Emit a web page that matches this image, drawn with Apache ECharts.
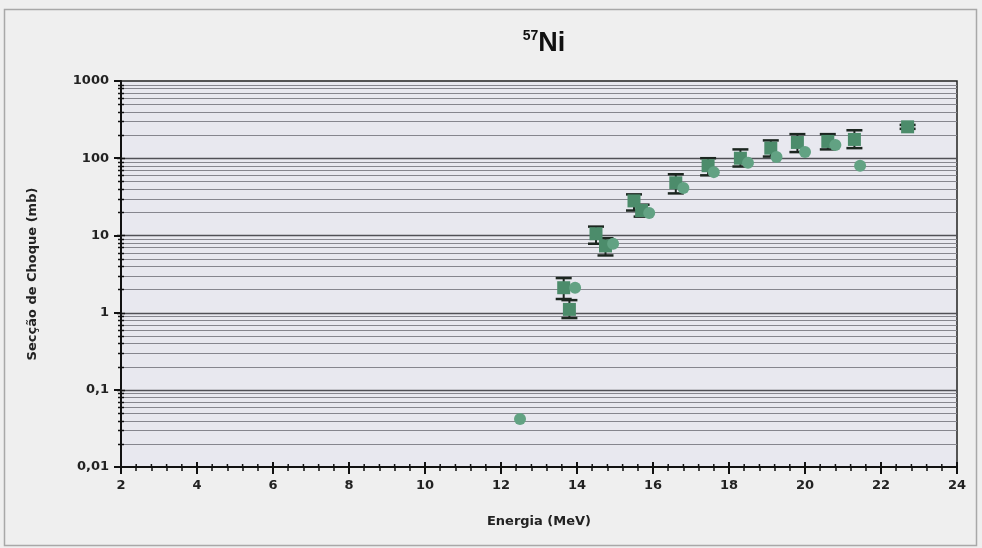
<!DOCTYPE html>
<html>
<head>
<meta charset="utf-8">
<title>57Ni</title>
<script src="https://cdn.jsdelivr.net/npm/echarts@6/dist/echarts.min.js"></script>
<style>
  html, body { margin: 0; padding: 0; background: #efefef; }
  #chart { width: 982px; height: 548px; }
</style>
</head>
<body>
<div id="chart"></div>
<script>
// Cross-section measurements for 57Ni (energy in MeV, cross-section in mb)
const setAEnergy = [13.65, 13.8, 14.5, 14.75, 15.5, 15.7, 16.6, 17.45, 18.3, 19.1, 19.8, 20.6, 21.3, 22.7];
const setAValue  = [2.1, 1.1, 10.5, 7.3, 28, 21, 48, 80, 100, 135, 160, 165, 175, 255];
const setALow    = [1.5, 0.85, 7.8, 5.5, 21, 17.5, 35, 60, 78, 105, 120, 130, 135, 240];
const setAHigh   = [2.8, 1.45, 13, 9.2, 34, 25, 62, 100, 130, 170, 205, 205, 230, 270];

const setBEnergy = [12.5, 13.95, 14.95, 15.9, 16.8, 17.6, 18.5, 19.25, 20.0, 20.8, 21.45];
const setBValue  = [0.042, 2.1, 7.8, 19.5, 41, 66, 87, 104, 120, 148, 80];

// Axis settings
const xTicks = { min: 2, max: 24, interval: 2 };
const yDecades = [0.01, 0.1, 1, 10, 100, 1000];
const minorFactors = [2, 3, 4, 5, 6, 7, 8, 9];

const font = 'DejaVu Sans';

const squareData = setAEnergy.map((e, i) => [e, setAValue[i]]);
const errData = setAEnergy.map((e, i) => [e, setALow[i], setAHigh[i]]);
const circleData = setBEnergy.map((e, i) => [e, setBValue[i]]);

// minor log gridlines (2..9 within every decade)
const minorVals = [];
yDecades.slice(0, -1).forEach(d => minorFactors.forEach(f => minorVals.push([d * f])));
const majorVals = yDecades.slice(1, -1).map(v => [v]);

const chart = echarts.init(document.getElementById('chart'));

function hLine(color, width, tick) {
  return function (params, api) {
    const v = api.value(0);
    const p0 = api.coord([xTicks.min, v]);
    const p1 = api.coord([xTicks.max, v]);
    const y = Math.round(p0[1]) + 0.5;
    return {
      type: 'group',
      children: [
        { type: 'line', shape: { x1: p0[0], y1: y, x2: p1[0], y2: y },
          style: { stroke: color, lineWidth: width } },
        { type: 'line', shape: { x1: p0[0] - tick, y1: y, x2: p0[0] + tick, y2: y },
          style: { stroke: '#111', lineWidth: 1.5 } }
      ]
    };
  };
}

// short upward tick marks on the x axis, so each tick crosses the axis line
function xInnerTicks(params, api) {
  const x = api.value(0);
  const major = api.value(1);
  const p = api.coord([x, 0.01]);
  const len = major ? 5 : 3;
  return { type: 'line', shape: { x1: p[0], y1: p[1], x2: p[0], y2: p[1] - len },
           style: { stroke: '#111', lineWidth: major ? 2 : 1.5 } };
}
const xTickMarks = [];
for (let k = 0; k <= (xTicks.max - xTicks.min) / 0.4 + 1e-9; k++) {
  const x = +(xTicks.min + k * 0.4).toFixed(2);
  xTickMarks.push([x, Math.abs(x / 2 - Math.round(x / 2)) < 1e-6 ? 1 : 0]);
}

chart.setOption({
  backgroundColor: '#efefef',
  animation: false,
  title: {
    text: '{sup|57}{main|Ni}',
    left: 539,
    top: 24,
    textAlign: 'center',
    textStyle: {
      rich: {
        sup: { fontFamily: 'Liberation Sans', fontWeight: 'bold', fontSize: 14, color: '#111', verticalAlign: 'top', lineHeight: 30, padding: [0, 0, 12, 0] },
        main: { fontFamily: 'Liberation Sans', fontWeight: 'bold', fontSize: 27, color: '#111', lineHeight: 30 }
      }
    }
  },
  graphic: [
    { type: 'rect', shape: { x: 4.5, y: 9.5, width: 972, height: 536 },
      style: { fill: 'none', stroke: '#a8a8a8', lineWidth: 1.5 }, z: -1 }
  ],
  grid: {
    left: 121, right: 25, top: 81, bottom: 81,
    show: true, backgroundColor: '#e8e8ef', borderColor: '#222', borderWidth: 1.5
  },
  xAxis: {
    type: 'value',
    min: xTicks.min, max: xTicks.max, interval: xTicks.interval,
    name: 'Energia (MeV)', nameLocation: 'middle', nameGap: 48,
    nameTextStyle: { fontFamily: font, fontWeight: 'bold', fontSize: 13, color: '#222' },
    axisLine: { onZero: false, lineStyle: { color: '#111', width: 2 } },
    axisTick: { show: true, length: 7, lineStyle: { color: '#111', width: 2 } },
    minorTick: { show: true, splitNumber: 5, length: 4, lineStyle: { color: '#111', width: 1.5 } },
    axisLabel: { fontFamily: font, fontWeight: 'bold', fontSize: 13, color: '#222', margin: 12 },
    splitLine: { show: false }
  },
  yAxis: {
    type: 'log', logBase: 10, min: 0.01, max: 1000,
    name: 'Secção de Choque (mb)', nameLocation: 'middle', nameGap: 82,
    nameTextStyle: { fontFamily: font, fontWeight: 'bold', fontSize: 13, color: '#222' },
    axisLine: { lineStyle: { color: '#111', width: 2 } },
    axisTick: { show: true, length: 7, lineStyle: { color: '#111', width: 2 } },
    axisLabel: {
      fontFamily: font, fontWeight: 'bold', fontSize: 13, color: '#222', margin: 12,
      formatter: v => String(v).replace('.', ',')
    },
    splitLine: { show: false }
  },
  series: [
    {
      type: 'custom', name: 'minorGrid', silent: true, z: 1,
      renderItem: hLine('#86868e', 1, 3),
      data: minorVals, encode: { y: 0 }
    },
    {
      type: 'custom', name: 'majorGrid', silent: true, z: 1,
      renderItem: hLine('#505056', 1.5, 4),
      data: majorVals, encode: { y: 0 }
    },
    {
      type: 'custom', name: 'xTickMarks', silent: true, z: 2,
      renderItem: xInnerTicks,
      data: xTickMarks, encode: { x: 0 }
    },
    {
      type: 'custom', name: 'errorBars', silent: true, z: 3,
      renderItem: function (params, api) {
        const x = api.value(0);
        const lo = api.coord([x, api.value(1)]);
        const hi = api.coord([x, api.value(2)]);
        const w = 8;
        const st = { stroke: '#1c2620', lineWidth: 2.5 };
        return {
          type: 'group',
          children: [
            { type: 'line', shape: { x1: lo[0], y1: lo[1], x2: hi[0], y2: hi[1] }, style: { stroke: '#1c2620', lineWidth: 2 } },
            { type: 'line', shape: { x1: lo[0] - w, y1: lo[1], x2: lo[0] + w, y2: lo[1] }, style: st },
            { type: 'line', shape: { x1: hi[0] - w, y1: hi[1], x2: hi[0] + w, y2: hi[1] }, style: st }
          ]
        };
      },
      data: errData, encode: { x: 0, y: [1, 2] }
    },
    {
      type: 'scatter', name: 'A', z: 4,
      symbol: 'rect', symbolSize: 13,
      itemStyle: { color: '#4c8c6b', opacity: 1 },
      data: squareData
    },
    {
      type: 'scatter', name: 'B', z: 4,
      symbol: 'circle', symbolSize: 12,
      itemStyle: { color: '#62a283', opacity: 1 },
      data: circleData
    }
  ]
});
</script>
</body>
</html>
